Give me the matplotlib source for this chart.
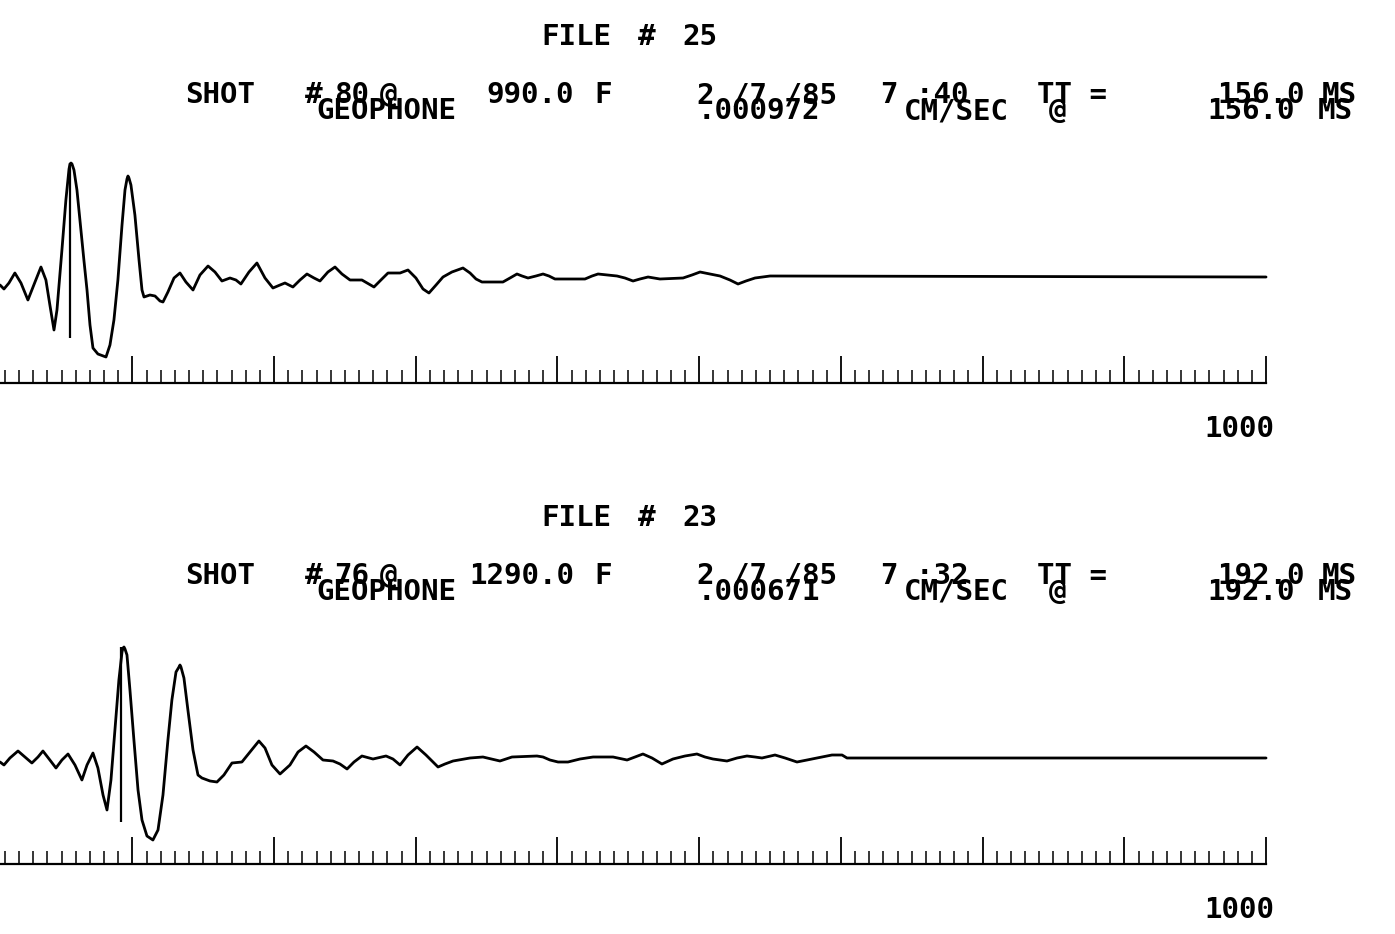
import matplotlib
matplotlib.use("Agg")
import matplotlib.pyplot as plt
import numpy as np
from matplotlib.ticker import FixedLocator, NullFormatter

# ---------------- data ----------------
# time in ms, amplitude in relative plot units (baseline = 0)
t1 = [106.6, 109.4, 112.9, 117.1, 121.4, 126.3, 131.3, 135.5, 139.0, 141.8,
      144.7, 146.8, 150.3, 153.1, 155.3, 156.0, 156.7, 157.4, 158.8, 160.9,
      163.0, 165.8, 168.0, 170.1, 172.2, 175.7, 181.4, 184.2, 187.0, 189.8,
      192.7, 194.8, 196.2, 196.9, 197.6, 199.0, 201.8, 204.7, 206.8, 208.2,
      212.4, 216.0, 219.5, 221.6, 225.1, 229.4, 233.6, 237.8, 242.8, 247.7,
      253.4, 258.3, 263.2, 268.9, 273.1, 276.6, 282.3, 287.9, 293.6, 299.2,
      304.2, 307.7, 313.3, 318.3, 323.2, 328.2, 332.4, 338.0, 343.0, 347.9,
      353.6, 362.0, 370.5, 375.4, 380.4, 388.9, 394.5, 400.1, 405.1, 409.3,
      414.3, 419.2, 425.5, 433.3, 438.3, 442.5, 446.7, 461.5, 466.5, 471.4,
      475.0, 479.2, 484.8, 489.8, 494.0, 498.2, 519.4, 524.4, 528.6, 542.0,
      547.6, 553.3, 558.2, 563.9, 572.3, 588.6, 594.9, 600.6, 607.6, 614.7,
      621.7, 627.4, 633.0, 639.4, 650.0, 1000.0]
a1 = [-8, -12, -6, 4, -6, -23, -5, 10, -3, -28,
      -53, -33, 27, 77, 108, 113, 114, 113, 107, 87,
      57, 17, -13, -48, -71, -77, -80, -68, -43, -3,
      52, 87, 98, 101, 99, 92, 62, 17, -13, -20,
      -18, -19, -24, -25, -15, -1, 4, -5, -13, 2,
      11, 5, -4, -1, -3, -7, 5, 14, -1, -11,
      -8, -6, -10, -3, 3, -1, -4, 5, 10, 3,
      -3, -3, -10, -3, 4, 4, 7, -1, -12, -16,
      -8, 0, 5, 9, 4, -2, -5, -5, -1, 3,
      1, -1, 1, 3, 1, -2, -2, 1, 3, 1,
      -1, -4, -2, 0, -2, -1, 2, 5, 3, 1,
      -3, -7, -4, -1, 1, 0]

t2 = [106.6, 109.4, 113.6, 119.3, 124.2, 129.1, 133.4, 136.9, 141.8, 146.1,
      150.3, 154.6, 159.5, 164.4, 168.0, 172.2, 175.7, 179.3, 182.1, 184.9,
      187.7, 190.5, 192.7, 193.4, 194.1, 194.8, 196.2, 198.3, 201.1, 204.0,
      206.8, 210.3, 214.5, 218.1, 221.6, 225.1, 227.9, 230.8, 232.9, 233.6,
      234.3, 236.4, 239.2, 242.8, 246.3, 249.1, 254.8, 259.7, 264.6, 270.3,
      277.3, 283.0, 289.3, 293.6, 298.5, 304.2, 311.2, 316.9, 322.5, 328.2,
      334.5, 341.6, 346.5, 351.5, 356.4, 362.0, 369.8, 379.0, 383.9, 388.9,
      394.5, 400.9, 407.2, 415.7, 420.6, 426.3, 438.3, 447.4, 459.4, 467.9,
      485.5, 489.8, 494.7, 500.4, 507.4, 515.9, 525.1, 539.2, 549.1, 554.7,
      560.3, 566.7, 573.7, 581.5, 590.0, 598.4, 604.1, 609.7, 619.6, 626.7,
      633.7, 639.4, 644.3, 653.5, 660.6, 669.0, 676.1, 683.1, 693.7, 700.8,
      704.3, 1000.0]
a2 = [-4, -7, 0, 7, 1, -5, 1, 7, -2, -10,
      -2, 4, -7, -22, -7, 5, -10, -37, -52, -22,
      28, 78, 106, 110, 111, 109, 103, 68, 18, -32,
      -62, -78, -82, -72, -37, 18, 58, 86, 91, 93,
      91, 80, 48, 8, -17, -20, -23, -24, -17, -5,
      -4, 6, 17, 10, -7, -16, -7, 6, 12, 6,
      -2, -3, -6, -11, -4, 2, -1, 2, -1, -7,
      3, 11, 3, -9, -6, -3, 0, 1, -3, 1,
      2, 1, -2, -4, -4, -1, 1, 1, -2, 1,
      4, 0, -6, -1, 2, 4, 1, -1, -3, 0,
      2, 1, 0, 3, 0, -4, -2, 0, 3, 3,
      0, 0]

file_ids = [25, 23]
shot_ids = [80, 76]
distances = ["990.0", "1290.0"]
dates = ["2 /7 /85", "2 /7 /85"]
clock = ["7 :40", "7 :32"]
tt_ms = [156.0, 192.0]
peak_vel = [".000972", ".000671"]
pick_low = [-61, -64]
major_ticks = list(range(200, 1001, 100))
minor_ticks = list(range(110, 1000, 10))
end_label = 1000

traces_t = [t1, t2]
traces_a = [a1, a2]

# ---------------- figure ----------------
W, H = 1395, 934
fig = plt.figure(figsize=(W / 100, H / 100), dpi=100)
fig.patch.set_facecolor("white")

FONT = dict(family="DejaVu Sans Mono", weight="bold", size=21, color="black")


def fx(px):
    return px / W


def fy(py):
    return 1 - py / H


def txt(x, y, s, ha="left"):
    fig.text(fx(x), fy(y), s, ha=ha, va="baseline", **FONT)


XMIN, XMAX = 106.6, 1091.0
for i in range(2):
    off = i * 481
    ax = fig.add_axes([0, fy(383 + off), 1, 243 / H])
    ax.set_xlim(XMIN, XMAX)
    ax.set_ylim(-106, 137)
    ax.set_facecolor("none")
    ax.plot(traces_t[i], traces_a[i], color="black", lw=2.0,
            solid_joinstyle="round", solid_capstyle="round")
    ax.vlines(tt_ms[i], pick_low[i], max(traces_a[i]), color="black", lw=1.6)
    for s in ["top", "right", "left"]:
        ax.spines[s].set_visible(False)
    ax.spines["bottom"].set_bounds(XMIN, end_label)
    ax.spines["bottom"].set_linewidth(1.6)
    ax.xaxis.set_major_locator(FixedLocator(major_ticks))
    ax.xaxis.set_minor_locator(FixedLocator(minor_ticks))
    ax.xaxis.set_major_formatter(NullFormatter())
    ax.xaxis.set_minor_formatter(NullFormatter())
    ax.tick_params(axis="x", which="major", direction="in", length=19.5, width=1.3)
    ax.tick_params(axis="x", which="minor", direction="in", length=9.5, width=1.1)
    ax.set_yticks([])

    # header texts
    y0 = 45 + off
    txt(541, y0, "FILE")
    txt(638, y0, "#")
    txt(682, y0, f"{file_ids[i]}")
    y1 = 103 + off
    txt(185, y1, "SHOT")
    txt(305, y1, "#")
    txt(334, y1, f"{shot_ids[i]}")
    txt(380, y1, "@")
    txt(574, y1, distances[i], ha="right")
    txt(594, y1, "F")
    txt(697, y1, dates[i])
    txt(881, y1, clock[i])
    txt(1037, y1, "TT =")
    txt(1305, y1, f"{tt_ms[i]:.1f}", ha="right")
    txt(1322, y1, "MS")
    y2 = 119 + off
    txt(316, y2, "GEOPHONE")
    txt(698, y2, peak_vel[i])
    txt(904, y2, "CM/SEC")
    txt(1049, y2, "@")
    txt(1295, y2, f"{tt_ms[i]:.1f}", ha="right")
    txt(1318, y2, "MS")

    txt(1274, 437 + off, f"{end_label}", ha="right")

fig.savefig("out.png", dpi=100, facecolor="white")
